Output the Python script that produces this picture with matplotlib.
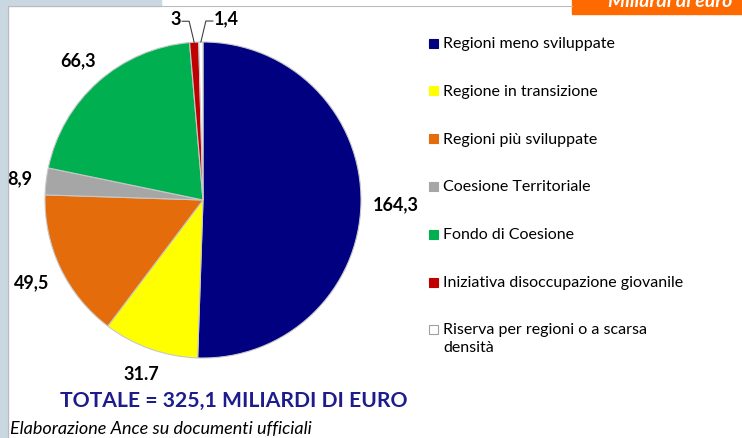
import numpy as np
import matplotlib.pyplot as plt
from matplotlib.patches import Rectangle

W, H = 742, 439

labels = ['Regioni meno sviluppate', 'Regione in transizione', 'Regioni più sviluppate',
          'Coesione Territoriale', 'Fondo di Coesione',
          'Iniziativa disoccupazione giovanile', 'Riserva per regioni o a scarsa\ndensità']
values = [164.3, 31.7, 49.5, 8.9, 66.3, 3.0, 1.4]
value_text = ['164,3', '31.7', '49,5', '8,9', '66,3', '3', '1,4']
colors = ['#000080', '#FFFF00', '#E46C0A', '#A6A6A6', '#00B050', '#C00000', '#FFFFFF']

FONT = 'Lato'

fig = plt.figure(figsize=(W / 100, H / 100), dpi=100)
ax = fig.add_axes([0, 0, 1, 1])
ax.set_xlim(0, W)
ax.set_ylim(0, H)
ax.axis('off')

def Y(y):
    return H - y

# background frame bits
ax.add_patch(Rectangle((0, 0), 8, H, color='#C9D7E1', zorder=0))
ax.add_patch(Rectangle((0, Y(7)), 161, 7, color='#C9D7E1', zorder=0))
ax.plot([8, 8], [0, Y(7)], color='#BBBBBB', lw=0.8)
ax.plot([8, 572], [Y(7), Y(7)], color='#BBBBBB', lw=0.8)
ax.add_patch(Rectangle((572, Y(15)), W - 572, 15, color='#FF6A00', zorder=1))
ax.text(670, Y(1), 'Miliardi di euro', color='white', fontsize=14, fontweight='bold',
        fontstyle='italic', family=FONT, ha='center', va='center', zorder=2)

# pie
cx, cy, r = 203, Y(201), 158
wedges, _ = ax.pie(values, colors=colors, startangle=90, counterclock=False,
                   center=(cx, cy), radius=r, frame=True,
                   wedgeprops=dict(edgecolor='#C8C8C8', linewidth=0.8))
ax.set_xlim(0, W)
ax.set_ylim(0, H)
ax.set_aspect('equal')
ax.axis('off')

for i, w in enumerate(wedges):
    mid = np.deg2rad((w.theta1 + w.theta2) / 2)
    if values[i] < 5:
        px, py = cx + r * np.cos(mid), cy + r * np.sin(mid)
        side = -1 if i == 5 else 1
        kx, ky = px + side * 5, py + 21
        tx = kx + side * 7
        ax.plot([px, kx, tx], [py, ky, ky], color='#404040', lw=0.8)
        ax.text(tx + side * 1, ky + 3, value_text[i], fontsize=13, fontweight='bold',
                family=FONT, ha='left' if side > 0 else 'right', va='center')
    else:
        # label box kept just outside the rim, as Excel's "outside end"
        tw = 9 * len(value_text[i])
        off = 12 + abs(np.cos(mid)) * tw / 2 + abs(np.sin(mid)) * 8
        d = r + off
        ax.text(cx + d * np.cos(mid), cy + d * np.sin(mid), value_text[i], fontsize=13,
                fontweight='bold', family=FONT, ha='center', va='center')

# legend
for i, lab in enumerate(labels):
    yy = Y(44 + i * 47.8)
    ax.add_patch(Rectangle((429, yy - 4.5), 9, 9, facecolor=colors[i],
                           edgecolor='#A0A0A0' if colors[i] == '#FFFFFF' else colors[i], lw=0.8))
    ax.text(443, yy + (8 if '\n' in lab else 0), lab, fontsize=11.5, family=FONT,
            ha='left', va='top' if '\n' in lab else 'center', linespacing=1.35)

ax.text(234, Y(401), 'TOTALE = 325,1 MILIARDI DI EURO', color='#1C1C8C', fontsize=15.2,
        fontweight='bold', family=FONT, ha='center', va='center')
ax.text(10, Y(429), 'Elaborazione Ance su documenti ufficiali', fontsize=13,
        fontstyle='italic', family=FONT, ha='left', va='center')

fig.savefig('out.png', dpi=100)
